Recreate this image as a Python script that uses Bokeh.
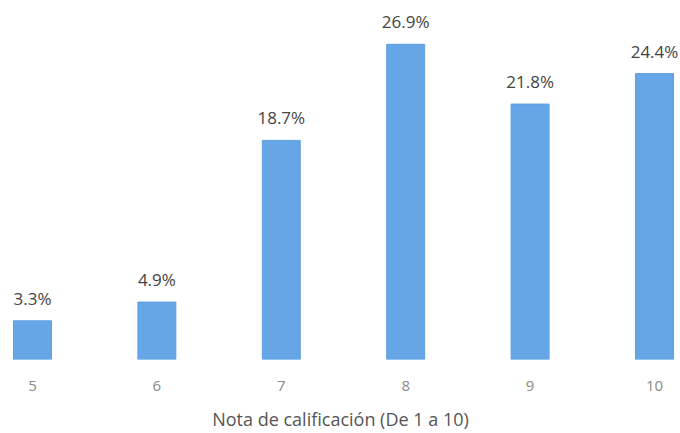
from bokeh.plotting import figure
from bokeh.models import ColumnDataSource, FixedTicker, Range1d
from bokeh.core.properties import value
from bokeh.embed import file_html
from bokeh.resources import INLINE

grades = [5, 6, 7, 8, 9, 10]
percent = [3.3, 4.9, 18.7, 26.9, 21.8, 24.4]
labels = ["3.3%", "4.9%", "18.7%", "26.9%", "21.8%", "24.4%"]
tick_labels = {5: "5", 6: "6", 7: "7", 8: "8", 9: "9", 10: "10"}

src = ColumnDataSource(dict(x=grades, top=percent, label=labels))

p = figure(width=680, height=433, output_backend="svg", toolbar_location=None,
           x_range=Range1d(4.743, 10.209), y_range=Range1d(0, 30.64),
           min_border_left=0, min_border_right=0, min_border_top=0, min_border_bottom=72)
p.background_fill_color = "white"
p.border_fill_color = "white"
p.outline_line_color = None
p.grid.visible = False
p.yaxis.visible = False

p.vbar(x="x", top="top", bottom=0, width=0.305, source=src,
       fill_color="#66a6e6", line_color="#5d9fe2", line_width=1)
p.text(x="x", y="top", text="label", source=src, text_align="center",
       text_baseline="bottom", y_offset=-11, text_font=value("Open Sans"),
       text_font_size="17px", text_color="#444444")

ax = p.xaxis[0]
ax.ticker = FixedTicker(ticks=grades)
ax.major_label_overrides = tick_labels
ax.axis_line_color = None
ax.major_tick_line_color = None
ax.minor_tick_line_color = None
ax.major_tick_out = 0
ax.major_label_standoff = 21
ax.major_label_text_font = "Open Sans"
ax.major_label_text_font_size = "15px"
ax.major_label_text_color = "#8a8a8a"
ax.axis_label = "Nota de calificación (De 1 a 10)"
ax.axis_label_standoff = 13
ax.axis_label_text_font = "Open Sans"
ax.axis_label_text_font_style = "normal"
ax.axis_label_text_font_size = "18px"
ax.axis_label_text_color = "#555555"

open("out.html", "w").write(file_html(p, INLINE))
